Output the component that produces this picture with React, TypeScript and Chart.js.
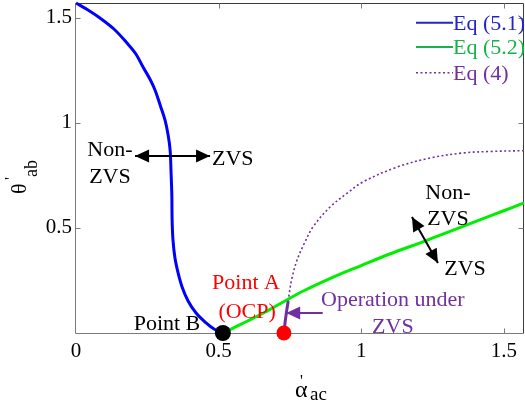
import { useEffect, useRef } from "react";
import { Chart, registerables } from "chart.js";

Chart.register(...registerables);

const HALF_PI = Math.PI / 2;
const SERIF = '"Liberation Serif", "Times New Roman", Times, serif';

// axis ticks
const xTicks = [0, 0.5, 1, 1.5];
const yTicks = [0.5, 1, 1.5];

// Eq (5.1): boundary curve from (0, pi/2) down to point B
const eq51X = [0, 0.042, 0.084, 0.133, 0.179, 0.21, 0.235, 0.259, 0.277, 0.295, 0.312, 0.323, 0.33, 0.333, 0.336, 0.337, 0.34, 0.347, 0.358, 0.372, 0.393, 0.421, 0.456, 0.484, 0.515];
const eq51Y = [HALF_PI, 1.5375, 1.4995, 1.447, 1.38, 1.328, 1.266, 1.209, 1.157, 1.085, 1.014, 0.942, 0.871, 0.776, 0.657, 0.538, 0.443, 0.357, 0.286, 0.219, 0.152, 0.095, 0.048, 0.019, 0];

// Eq (5.2): boundary curve from point B to the right edge
const eq52X = [0.515, 0.54, 0.6, 0.657, 0.72, 0.797, 0.9, 1.0, 1.1, 1.214, 1.3, 1.4, 1.5, HALF_PI];
const eq52Y = [0, 0.016, 0.056, 0.095, 0.143, 0.2, 0.265, 0.321, 0.376, 0.433, 0.478, 0.53, 0.582, 0.619];

// Eq (4): dotted curve above Eq (5.2)
const eq4X = [0.744, 0.749, 0.757, 0.775, 0.8, 0.831, 0.891, 0.95, 1.006, 1.126, 1.241, 1.357, 1.45, HALF_PI];
const eq4Y = [0.152, 0.2, 0.26, 0.347, 0.425, 0.505, 0.6, 0.665, 0.719, 0.79, 0.833, 0.857, 0.864, 0.868];

// Eq (4) segment below Eq (5.2): operation under ZVS
const zvsOpX = [0.729, 0.733, 0.738, 0.744];
const zvsOpY = [0, 0.05, 0.1, 0.152];

// marked points
const pointB = { x: 0.515, y: 0 };
const pointA = { x: 0.729, y: 0 };

const BLUE = "#0000ff";
const GREEN = "#00ee00";
const PURPLE = "#7030a0";
const RED = "#ff0000";

type Note = { text: string; x: number; y: number; color: string; align: CanvasTextAlign };

// text annotations, placed in data coordinates (y = vertical centre of capitals)
const notes: Note[] = [
  { text: "Non-", x: 0.119, y: 0.876, color: "#000", align: "center" },
  { text: "ZVS", x: 0.119, y: 0.747, color: "#000", align: "center" },
  { text: "ZVS", x: 0.477, y: 0.833, color: "#000", align: "left" },
  { text: "Non-", x: 1.304, y: 0.671, color: "#000", align: "center" },
  { text: "ZVS", x: 1.304, y: 0.547, color: "#000", align: "center" },
  { text: "ZVS", x: 1.364, y: 0.309, color: "#000", align: "center" },
  { text: "Point A", x: 0.596, y: 0.243, color: RED, align: "center" },
  { text: "(OCP)", x: 0.6, y: 0.108, color: RED, align: "center" },
  { text: "Point B", x: 0.319, y: 0.048, color: "#000", align: "center" },
  { text: "Operation under", x: 1.111, y: 0.162, color: PURPLE, align: "center" },
  { text: "ZVS", x: 1.111, y: 0.033, color: PURPLE, align: "center" },
];

type Arrow = { x1: number; y1: number; x2: number; y2: number; color: string; both: boolean };

// arrows: head at (x2, y2), and also at (x1, y1) when both is set
const arrows: Arrow[] = [
  { x1: 0.207, y1: 0.843, x2: 0.47, y2: 0.843, color: "#000", both: true },
  { x1: 1.178, y1: 0.552, x2: 1.269, y2: 0.333, color: "#000", both: true },
  { x1: 0.865, y1: 0.095, x2: 0.737, y2: 0.095, color: PURPLE, both: false },
];

const legendItems = [
  { label: "Eq (5.1)", color: "#2323cc", dash: [] as number[] },
  { label: "Eq (5.2)", color: "#17b34a", dash: [] as number[] },
  { label: "Eq (4)", color: PURPLE, dash: [2, 2.5] },
];

const pts = (xs: number[], ys: number[]) => xs.map((x, i) => ({ x, y: ys[i] }));

function drawHead(ctx: CanvasRenderingContext2D, fx: number, fy: number, tx: number, ty: number) {
  const ang = Math.atan2(ty - fy, tx - fx);
  const len = 14;
  const half = 6.5;
  ctx.beginPath();
  ctx.moveTo(tx, ty);
  ctx.lineTo(tx - len * Math.cos(ang) + half * Math.sin(ang), ty - len * Math.sin(ang) - half * Math.cos(ang));
  ctx.lineTo(tx - len * Math.cos(ang) - half * Math.sin(ang), ty - len * Math.sin(ang) + half * Math.cos(ang));
  ctx.closePath();
  ctx.fill();
}

const framePlugin = {
  id: "frame",
  beforeDatasetsDraw(chart: any) {
    const { ctx, chartArea: a, scales } = chart;
    const L = a.left - 0.5;
    const R = a.right - 0.5;
    const T = a.top + 0.5;
    const B = a.bottom + 0.5;
    ctx.save();
    ctx.lineWidth = 1;
    ctx.strokeStyle = "#3c3c3c";
    ctx.beginPath();
    ctx.moveTo(L, T);
    ctx.lineTo(R, T);
    ctx.lineTo(R, B);
    ctx.stroke();
    ctx.strokeStyle = "#7a7a7a";
    ctx.beginPath();
    ctx.moveTo(L, T);
    ctx.lineTo(L, B);
    ctx.lineTo(R, B);
    ctx.stroke();
    const tl = 5;
    ctx.beginPath();
    for (const v of xTicks) {
      if (v === 0) continue;
      const px = Math.round(scales.x.getPixelForValue(v)) + 0.5;
      ctx.moveTo(px, B);
      ctx.lineTo(px, B - tl);
      ctx.moveTo(px, T);
      ctx.lineTo(px, T + tl);
    }
    for (const v of yTicks) {
      const py = Math.round(scales.y.getPixelForValue(v)) + 0.5;
      ctx.moveTo(L, py);
      ctx.lineTo(L + tl, py);
      ctx.moveTo(R, py);
      ctx.lineTo(R - tl, py);
    }
    ctx.stroke();
    ctx.restore();
  },
  afterDraw(chart: any) {
    const { ctx, chartArea: a, scales } = chart;
    const sx = (v: number) => scales.x.getPixelForValue(v);
    const sy = (v: number) => scales.y.getPixelForValue(v);
    ctx.save();

    // arrows
    for (const ar of arrows) {
      const x1 = sx(ar.x1), y1 = sy(ar.y1), x2 = sx(ar.x2), y2 = sy(ar.y2);
      ctx.strokeStyle = ar.color;
      ctx.fillStyle = ar.color;
      ctx.lineWidth = 2;
      ctx.beginPath();
      ctx.moveTo(x1, y1);
      ctx.lineTo(x2, y2);
      ctx.stroke();
      drawHead(ctx, x1, y1, x2, y2);
      if (ar.both) drawHead(ctx, x2, y2, x1, y1);
    }

    // annotation texts
    const fs = 22;
    ctx.font = `${fs}px ${SERIF}`;
    ctx.textBaseline = "alphabetic";
    for (const n of notes) {
      ctx.fillStyle = n.color;
      ctx.textAlign = n.align;
      ctx.fillText(n.text, sx(n.x), sy(n.y) + fs * 0.33);
    }

    // legend, top right inside the axes
    ctx.textAlign = "left";
    const rows = [19.7, 44, 69.7];
    legendItems.forEach((it, i) => {
      const y = a.top + rows[i];
      ctx.strokeStyle = it.color;
      ctx.lineWidth = it.dash.length ? 1.6 : 2;
      ctx.setLineDash(it.dash);
      ctx.beginPath();
      ctx.moveTo(a.right - 108, y);
      ctx.lineTo(a.right - 71, y);
      ctx.stroke();
      ctx.setLineDash([]);
      ctx.fillStyle = it.color;
      ctx.fillText(it.label, a.right - 71, y + fs * 0.33);
    });

    // x axis title: alpha'_ac
    ctx.fillStyle = "#000";
    const cx = (a.left + a.right) / 2;
    ctx.font = `24px ${SERIF}`;
    ctx.fillText("\u03b1", cx - 5, 397);
    ctx.font = `16px ${SERIF}`;
    ctx.fillText("'", cx, 386);
    ctx.font = `19px ${SERIF}`;
    ctx.fillText("ac", cx + 10, 400);

    // y axis title: theta'_ab, rotated
    const cy = (a.top + a.bottom) / 2;
    ctx.translate(26, cy + 26);
    ctx.rotate(-Math.PI / 2);
    ctx.font = `22px ${SERIF}`;
    ctx.fillText("\u03b8", 0, 0);
    ctx.font = `16px ${SERIF}`;
    ctx.fillText("'", 14, -10);
    ctx.font = `18px ${SERIF}`;
    ctx.fillText("ab", 17, 11);
    ctx.restore();
  },
};

// keep the plot box fixed: tick labels may overhang the axes ends
const noOverhang = (s: any) => {
  s.paddingLeft = 0;
  s.paddingRight = 0;
  s.paddingTop = 0;
  s.paddingBottom = 0;
};

export default function App() {
  const ref = useRef<HTMLCanvasElement | null>(null);

  useEffect(() => {
    if (!ref.current) return;
    const tickFont = { family: SERIF, size: 21 };
    const chart = new Chart(ref.current, {
      type: "scatter",
      data: {
        datasets: [
          { label: "Point B", data: [pointB], pointRadius: 8, pointBackgroundColor: "#000", pointBorderWidth: 0, clip: false } as any,
          { label: "Point A", data: [pointA], pointRadius: 7.5, pointBackgroundColor: RED, pointBorderWidth: 0, clip: false } as any,
          { label: "Operation under ZVS", data: pts(zvsOpX, zvsOpY), showLine: true, borderColor: PURPLE, borderWidth: 3, pointRadius: 0, tension: 0 },
          { label: "Eq (5.1)", data: pts(eq51X, eq51Y), showLine: true, borderColor: BLUE, borderWidth: 3, pointRadius: 0, tension: 0.35, clip: 4 } as any,
          { label: "Eq (5.2)", data: pts(eq52X, eq52Y), showLine: true, borderColor: GREEN, borderWidth: 3, pointRadius: 0, tension: 0.35 },
          { label: "Eq (4)", data: pts(eq4X, eq4Y), showLine: true, borderColor: PURPLE, borderWidth: 1.6, borderDash: [2, 2.5], pointRadius: 0, tension: 0.35 },
        ],
      },
      options: {
        responsive: false,
        animation: false,
        layout: { autoPadding: false, padding: { top: 3, right: 1, left: 0, bottom: 0 } },
        plugins: { legend: { display: false }, tooltip: { enabled: false } },
        scales: {
          x: {
            type: "linear",
            min: 0,
            max: HALF_PI,
            grid: { display: false, drawTicks: false },
            border: { display: false },
            ticks: { font: tickFont, color: "#000", padding: 6, autoSkip: false, maxRotation: 0, callback: (v: any) => String(v) },
            afterBuildTicks: (s: any) => {
              s.ticks = xTicks.map((value) => ({ value }));
            },
            afterFit: (s: any) => {
              s.height = 71;
              noOverhang(s);
            },
          },
          y: {
            type: "linear",
            min: 0,
            max: HALF_PI,
            grid: { display: false, drawTicks: false },
            border: { display: false },
            ticks: { font: tickFont, color: "#000", padding: 4, autoSkip: false, callback: (v: any) => String(v) },
            afterBuildTicks: (s: any) => {
              s.ticks = yTicks.map((value) => ({ value }));
            },
            afterFit: (s: any) => {
              s.width = 76;
              noOverhang(s);
            },
          },
        },
      },
      plugins: [framePlugin],
    });
    return () => chart.destroy();
  }, []);

  return (
    <div style={{ position: "fixed", left: 0, top: 0, width: 525, height: 404, background: "#fff" }}>
      <canvas ref={ref} width={525} height={404} />
    </div>
  );
}
